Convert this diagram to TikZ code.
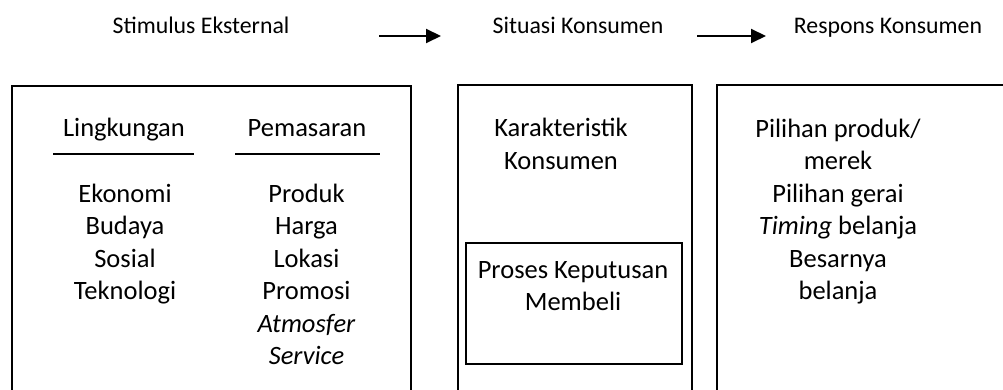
\documentclass[tikz,border=0pt]{standalone}
\usepackage{fontspec}
\setmainfont{Carlito}
\usetikzlibrary{arrows.meta}
\tikzset{
    outer-box/.style = {draw=black, line width=2pt, rectangle, anchor=north west, inner sep=0pt},
    head-text/.style = {font=\fontsize{23.8}{29}\selectfont, anchor=base, inner sep=0pt},
    body-text/.style = {font=\fontsize{26.5}{32.5}\selectfont, align=center, anchor=base, inner sep=0pt},
    flow-arrow/.style = {line width=2pt, -{Triangle[length=15pt, width=14pt]}},
    head-rule/.style = {line width=2pt},
}

\begin{document}
\begin{tikzpicture}[x=1pt, y=-1pt]
\clip (0,0) rectangle (1003,390);
\node[outer-box, minimum width=399pt, minimum height=340pt] (stimulus-box) at (11,85) {};
\node[outer-box, minimum width=234pt, minimum height=340pt] (situation-box) at (457,84) {};
\node[outer-box, minimum width=320pt, minimum height=340pt] (response-box) at (716,84) {};
\node[outer-box, minimum width=216pt, minimum height=121pt] (decision-box) at (465,242) {};

\node[head-text] (stimulus) at (201,34) {Stimulus Eksternal};
\node[head-text] (situation) at (578,34) {Situasi Konsumen};
\node[head-text] (response) at (888,34) {Respons Konsumen};
\coordinate (flow-a-start) at (379,36);
\coordinate (flow-a-end) at (441,36);
\coordinate (flow-b-start) at (697,36);
\coordinate (flow-b-end) at (766,36);
\draw[flow-arrow] (flow-a-start) -- (flow-a-end);
\draw[flow-arrow] (flow-b-start) -- (flow-b-end);

\node[body-text] (environment) at (124,137) {Lingkungan};
\node[body-text] (marketing) at (307,137) {Pemasaran};
\draw[head-rule] (53,154) -- (194,154);
\draw[head-rule] (235,154) -- (380,154);
\node[body-text] (environment-list) at (125,299.5) {Ekonomi\\Budaya\\Sosial\\Teknologi};
\node[body-text] (marketing-list) at (306.5,364.5) {Produk\\Harga\\Lokasi\\Promosi\\\textit{Atmosfer}\\\textit{Service}};
\node[body-text] (traits) at (561,169.5) {Karakteristik\\Konsumen};
\node[body-text] (decision) at (573,310.5) {Proses Keputusan\\Membeli};
\node[body-text] (choices) at (838,299.5) {Pilihan produk/\\merek\\Pilihan gerai\\\textit{Timing} belanja\\Besarnya\\belanja};
\end{tikzpicture}
\end{document}
